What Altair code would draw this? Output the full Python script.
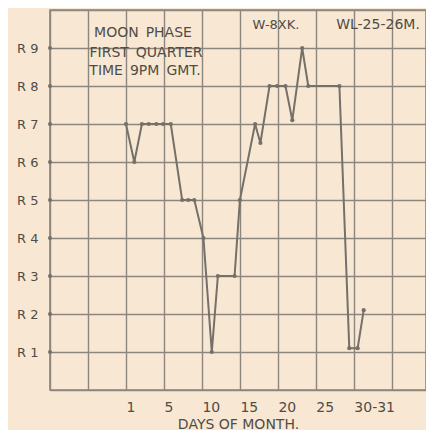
import altair as alt
import pandas as pd

# Hand-drawn chart: x positions (day scale of the drawing)
day_pos = [1.0, 2.1, 3.1, 4.0, 5.0, 5.9, 6.9, 8.4, 9.2, 10.0, 11.2, 12.3, 13.1, 15.3,
           16.0, 18.0, 18.7, 19.9, 20.9, 22.0, 22.9, 24.2, 25.0, 29.1, 30.4, 31.5, 32.3]
r_level = [7, 6, 7, 7, 7, 7, 7, 5, 5, 5, 4, 1, 3, 3,
           5, 7, 6.5, 8, 8, 8, 7.1, 9, 8, 8, 1.1, 1.1, 2.1]

grid_x = [-9, -4, 1, 6, 11, 16, 21, 26, 31, 36]
x_domain = [-9, 40.5]
tick_pos = [1, 6, 11, 16, 21, 26, 31]
tick_labels = ["1", "5", "10", "15", "20", "25", "30-31"]
r_levels = [1, 2, 3, 4, 5, 6, 7, 8, 9]
grid_y = [0, 1, 2, 3, 4, 5, 6, 7, 8, 9, 10]

FONT = "DejaVu Sans"
INK = "#514c46"
GRID = "#8c867c"
LINE = "#75706a"

df = pd.DataFrame({"day": day_pos, "r": r_level})
lv = pd.DataFrame({"r": r_levels})

label_map = "{" + ",".join(f"'{p}':'{l}'" for p, l in zip(tick_pos, tick_labels)) + "}"
x_label_expr = f"({label_map})[''+datum.value] || ''"

x_enc = alt.X(
    "day:Q",
    scale=alt.Scale(domain=x_domain, nice=False, zero=False),
    axis=alt.Axis(
        values=grid_x, tickCount=len(grid_x), labelExpr=x_label_expr, grid=True,
        gridColor=GRID, gridWidth=1.4, gridOpacity=1, domain=False, ticks=False,
        labelAlign="left", labelPadding=10, labelFont=FONT, labelFontSize=14,
        labelColor=INK, title="DAYS OF MONTH.", titleFont=FONT, titleFontSize=14,
        titleFontWeight="normal", titleColor=INK, titlePadding=3, labelFlush=False,
        labelOverlap=False,
    ),
)
y_enc = alt.Y(
    "r:Q",
    scale=alt.Scale(domain=[0, 10], nice=False, zero=False),
    axis=alt.Axis(
        values=grid_y, tickCount=len(grid_y),
        labelExpr="datum.value >= 1 && datum.value <= 9 ? 'R ' + datum.value : ''",
        grid=True, gridColor=GRID, gridWidth=1.4, gridOpacity=1, domain=False, ticks=False,
        labelPadding=12, labelFont=FONT, labelFontSize=13, labelColor=INK, title=None,
        labelOverlap=False,
    ),
)

base = alt.Chart(df).encode(x=x_enc, y=y_enc)
line = base.mark_line(color=LINE, strokeWidth=2)
pts = base.mark_circle(color=LINE, size=18, opacity=1)
axis_dots = alt.Chart(lv).mark_circle(color=LINE, size=16, opacity=1).encode(
    x=alt.value(0), y=y_enc
)

def note(text, x, y, size=14, weight="normal"):
    return alt.Chart(pd.DataFrame({"t": [text]})).mark_text(
        font=FONT, fontSize=size, color=INK, align="center", baseline="middle",
        fontWeight=weight,
    ).encode(text="t:N", x=alt.value(x), y=alt.value(y))

SP = "\u2002"
notes = [
    note(f"MOON{SP}PHASE", 93, 23),
    note(f"FIRST{SP}QUARTER", 96, 43),
    note(f"TIME{SP}9PM{SP}GMT.", 95, 61),
    note("W-8XK.", 226, 15, 13),
    note("WL-25-26M.", 328, 15, 14),
]

chart = alt.layer(line, pts, axis_dots, *notes).properties(
    width=376, height=380, autosize="none",
    padding={"left": 42, "top": 2, "right": 0, "bottom": 40},
    background="#f8e8d3",
).configure_view(stroke=GRID, strokeWidth=1.6)

chart.save("out.html", embed_options={"renderer": "svg", "actions": False})
